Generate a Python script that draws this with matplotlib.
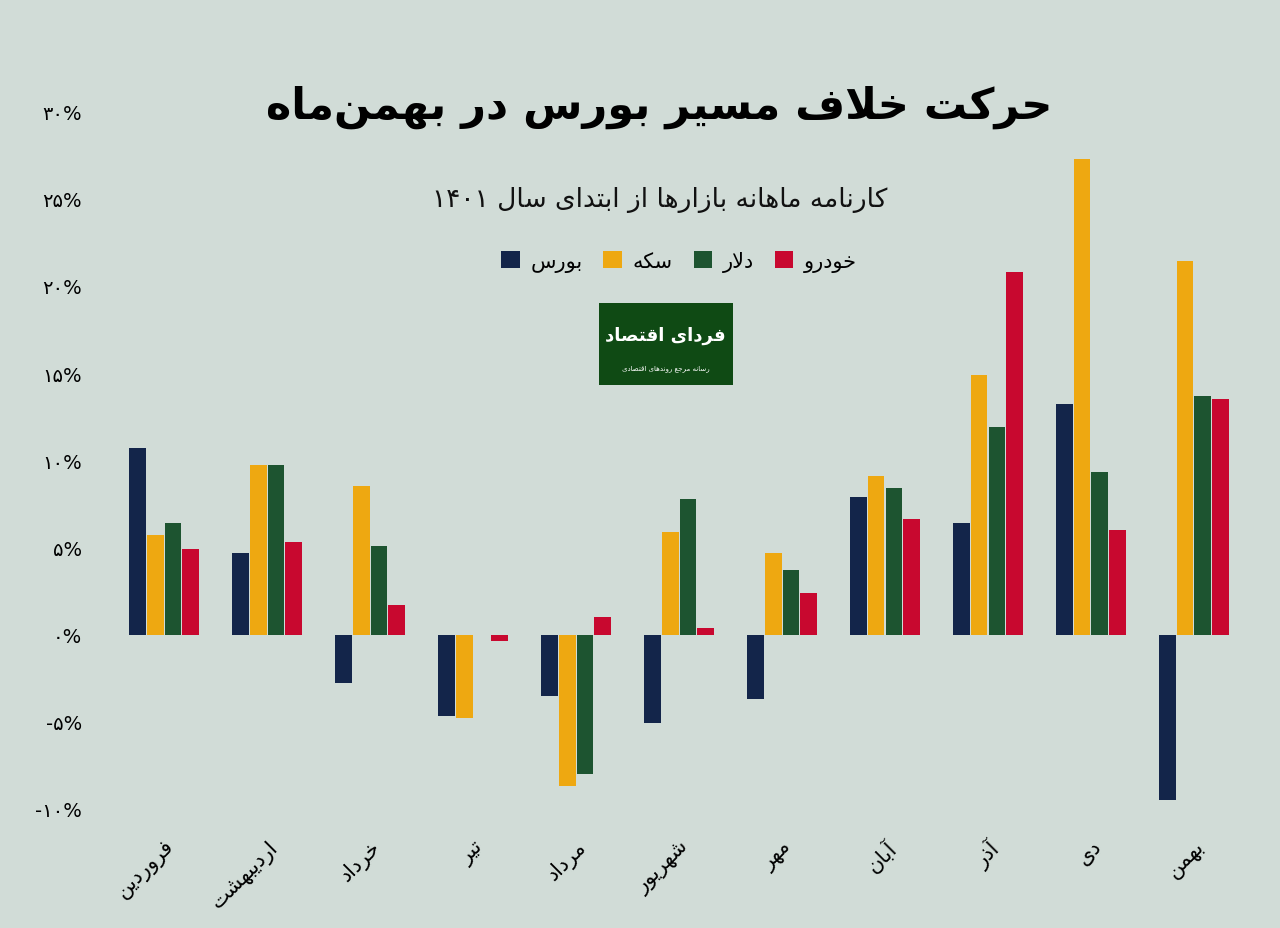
import numpy as np
import matplotlib.pyplot as plt
from matplotlib.patches import Rectangle

# --- minimal Persian shaping (presentation forms) ---
FORMS = {
    'ا': (0xFE8D, 0xFE8E, None, None), 'آ': (0xFE81, 0xFE82, None, None),
    'ب': (0xFE8F, 0xFE90, 0xFE91, 0xFE92), 'پ': (0xFB56, 0xFB57, 0xFB58, 0xFB59),
    'ت': (0xFE95, 0xFE96, 0xFE97, 0xFE98), 'ج': (0xFE9D, 0xFE9E, 0xFE9F, 0xFEA0),
    'چ': (0xFB7A, 0xFB7B, 0xFB7C, 0xFB7D), 'ح': (0xFEA1, 0xFEA2, 0xFEA3, 0xFEA4),
    'خ': (0xFEA5, 0xFEA6, 0xFEA7, 0xFEA8), 'د': (0xFEA9, 0xFEAA, None, None),
    'ذ': (0xFEAB, 0xFEAC, None, None), 'ر': (0xFEAD, 0xFEAE, None, None),
    'ز': (0xFEAF, 0xFEB0, None, None), 'ژ': (0xFB8A, 0xFB8B, None, None),
    'س': (0xFEB1, 0xFEB2, 0xFEB3, 0xFEB4), 'ش': (0xFEB5, 0xFEB6, 0xFEB7, 0xFEB8),
    'ص': (0xFEB9, 0xFEBA, 0xFEBB, 0xFEBC), 'ط': (0xFEC1, 0xFEC2, 0xFEC3, 0xFEC4),
    'ع': (0xFEC9, 0xFECA, 0xFECB, 0xFECC), 'ف': (0xFED1, 0xFED2, 0xFED3, 0xFED4),
    'ق': (0xFED5, 0xFED6, 0xFED7, 0xFED8), 'ک': (0xFB8E, 0xFB8F, 0xFB90, 0xFB91),
    'گ': (0xFB92, 0xFB93, 0xFB94, 0xFB95), 'ل': (0xFEDD, 0xFEDE, 0xFEDF, 0xFEE0),
    'م': (0xFEE1, 0xFEE2, 0xFEE3, 0xFEE4), 'ن': (0xFEE5, 0xFEE6, 0xFEE7, 0xFEE8),
    'و': (0xFEED, 0xFEEE, None, None), 'ه': (0xFEE9, 0xFEEA, 0xFEEB, 0xFEEC),
    'ی': (0xFBFC, 0xFBFD, 0xFBFE, 0xFBFF),
}


def fa(text):
    out = []
    for word in text.split(' '):
        s = word.replace('لا', '\uE000')
        chars = list(s)
        res = []
        for i, c in enumerate(chars):
            prev = chars[i - 1] if i > 0 else None
            nxt = chars[i + 1] if i + 1 < len(chars) else None
            joins_prev = prev in FORMS and FORMS[prev][2] is not None
            if c == '\uE000':
                res.append(chr(0xFEFC if joins_prev else 0xFEFB))
                continue
            if c not in FORMS:
                res.append(c)
                continue
            f = FORMS[c]
            joins_next = f[2] is not None and (nxt in FORMS or nxt == '\uE000')
            if joins_prev and joins_next:
                res.append(chr(f[3]))
            elif joins_prev:
                res.append(chr(f[1]))
            elif joins_next:
                res.append(chr(f[2]))
            else:
                res.append(chr(f[0]))
        out.append(''.join(reversed(res)))
    return ' '.join(reversed(out))


def fadig(s):
    return s.translate(str.maketrans('0123456789', '۰۱۲۳۴۵۶۷۸۹'))


months = ['فروردین', 'اردیبهشت', 'خرداد', 'تیر', 'مرداد', 'شهریور',
          'مهر', 'آبان', 'آذر', 'دی', 'بهمن']
bourse = [10.7, 4.7, -2.8, -4.7, -3.5, -5.1, -3.7, 7.9, 6.4, 13.2, -9.5]
coin = [5.7, 9.7, 8.5, -4.8, -8.7, 5.9, 4.7, 9.1, 14.9, 27.3, 21.4]
dollar = [6.4, 9.7, 5.1, 0.0, -8.0, 7.8, 3.7, 8.4, 11.9, 9.3, 13.7]
auto = [4.9, 5.3, 1.7, -0.4, 1.0, 0.4, 2.4, 6.6, 20.8, 6.0, 13.5]
series_names = ['بورس', 'سکه', 'دلار', 'خودرو']
colors = ['#13254a', '#eea811', '#1d5430', '#c8082f']
yticks = [-10, -5, 0, 5, 10, 15, 20, 25, 30]

bg = '#d1dcd7'
plt.rcParams['font.family'] = ['DejaVu Sans']
fig = plt.figure(figsize=(12.8, 9.29), dpi=100, facecolor=bg)
ax = fig.add_axes([0.088, 0.117, 0.885, 0.775], facecolor=bg)

x = np.arange(len(months))
w = 0.163
for k, vals in enumerate([bourse, coin, dollar, auto]):
    ax.bar(x + (k - 1.5) * (w + 0.01), vals, w, color=colors[k],
           label=fa(series_names[k]))

ax.set_xlim(-0.5, len(months) - 0.5)
ax.set_ylim(-10.6, 30.7)
ax.set_yticks(yticks)
ax.set_yticklabels([fadig(str(t)) + '%' if t >= 0 else '-' + fadig(str(-t)) + '%'
                    for t in yticks], fontsize=14)
ax.set_xticks(x)
ax.set_xticklabels([fa(m) for m in months], rotation=45, ha='right',
                   rotation_mode='anchor', fontsize=15)
ax.tick_params(length=0, pad=12)
ax.tick_params(axis='y', pad=22)
for sp in ax.spines.values():
    sp.set_visible(False)

fig.text(0.515, 0.885, fa('ماه') + fa('حرکت خلاف مسیر بورس در بهمن'),
         ha='center', va='center', fontsize=31, fontweight='bold', color='black')
fig.text(0.515, 0.785, fadig('1401') + ' ' + fa('کارنامه ماهانه بازارها از ابتدای سال'),
         ha='center', va='center', fontsize=19, color='#111111')
ax.legend(loc='center', bbox_to_anchor=(0.5, 0.775), ncol=4,
          frameon=False, fontsize=15, handlelength=0.9, handleheight=0.9,
          columnspacing=1.0, handletextpad=0.5)

# logo box
fig.patches.append(Rectangle((0.468, 0.585), 0.105, 0.088, transform=fig.transFigure,
                             facecolor='#0f4a14', edgecolor='none'))
fig.text(0.52, 0.638, fa('فردای اقتصاد'), ha='center', va='center', fontsize=13,
         fontweight='bold', color='white')
fig.text(0.52, 0.603, fa('رسانه مرجع روندهای اقتصادی'), ha='center', va='center',
         fontsize=5, color='white')

fig.savefig('out.png', dpi=100, facecolor=bg)
